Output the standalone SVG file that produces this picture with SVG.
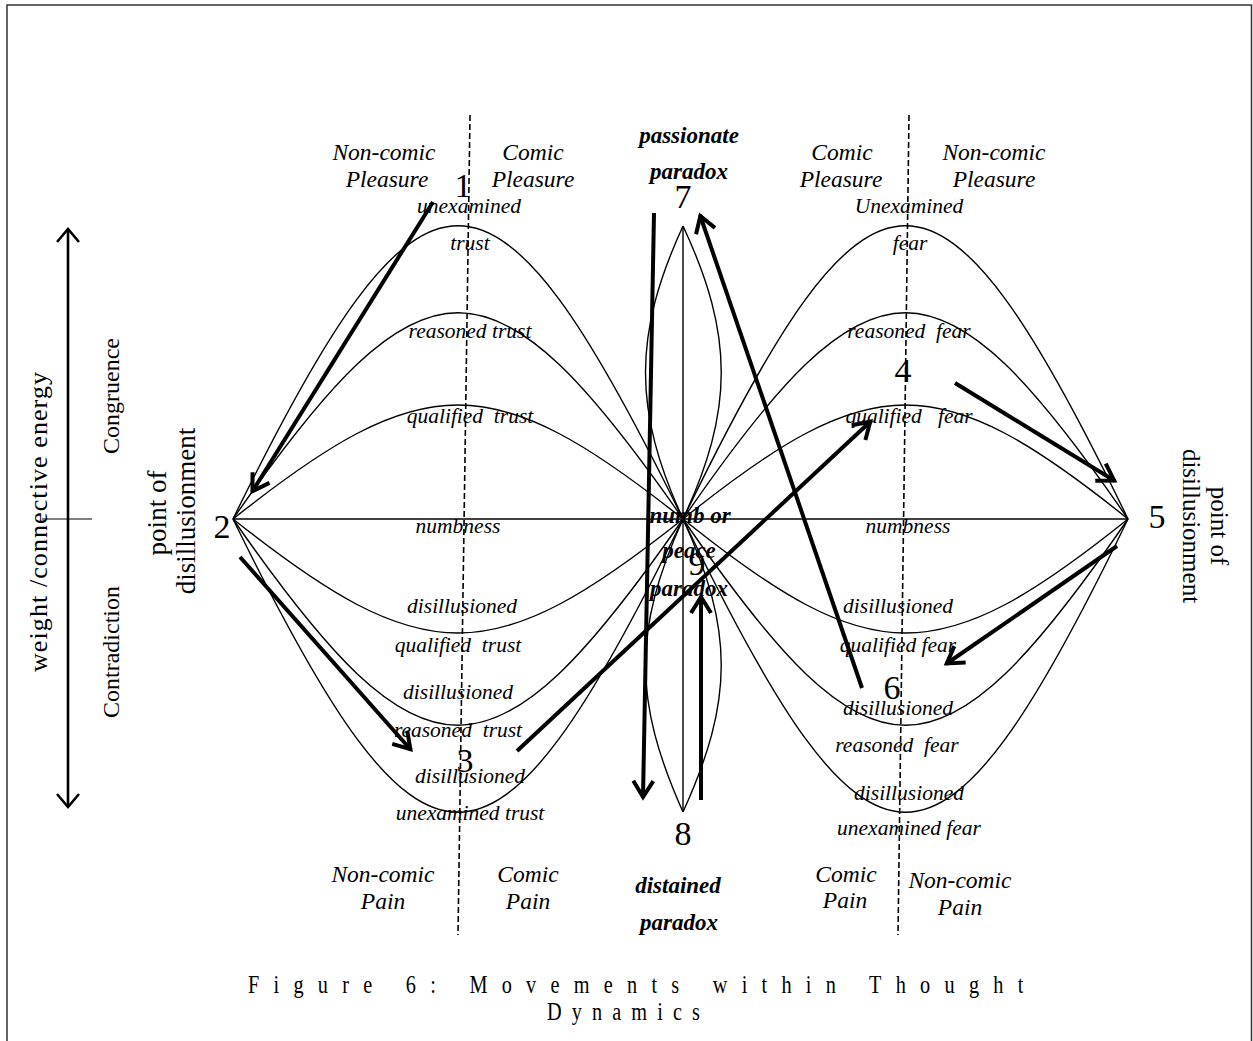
<svg xmlns="http://www.w3.org/2000/svg" width="1253" height="1041" viewBox="0 0 1253 1041">
<style>
.c{fill:none;stroke:#000;stroke-width:1.4}
.d{fill:none;stroke:#000;stroke-width:1.6;stroke-dasharray:6 3}
.a{fill:none;stroke:#000;stroke-width:4;marker-end:url(#ah)}
.t{font-family:"Liberation Serif",serif;fill:#000;text-anchor:middle;white-space:pre}
.i{font-style:italic;font-size:21.5px}
.h{font-style:italic;font-size:23.5px}
.b{font-style:italic;font-weight:bold;font-size:23px}
.n{font-size:34px}
.cap{font-family:"Liberation Serif",serif;fill:#000;font-size:26px}
</style>
<defs>
<marker id="ah" viewBox="0 0 26 24" refX="21" refY="12" markerWidth="26" markerHeight="24" markerUnits="userSpaceOnUse" orient="auto">
<path d="M4,2 L20,12 L4,22" fill="none" stroke="#000" stroke-width="4"/>
</marker>
</defs>
<rect x="7" y="5" width="1244.5" height="1045" fill="#fff" stroke="#333" stroke-width="1.5"/>

<g id="axis">
<path d="M68,230 L68,806" fill="none" stroke="#000" stroke-width="2.6"/>
<path d="M57,242 L68,229 L79,242" fill="none" stroke="#000" stroke-width="2.6"/>
<path d="M57,794 L68,807 L79,794" fill="none" stroke="#000" stroke-width="2.6"/>
<path d="M42,519 L92,519" fill="none" stroke="#000" stroke-width="1.2"/>
<text class="t" font-size="26" transform="translate(47,522) rotate(-90)" textLength="300" lengthAdjust="spacing">weight /connective energy</text>
<text class="t" font-size="24" transform="translate(119,396) rotate(-90)">Congruence</text>
<text class="t" font-size="24" transform="translate(119,652) rotate(-90)">Contradiction</text>
</g>

<g id="curves">
<path class="c" d="M233,519 C424,128 492,128 683,519"/>
<path class="c" d="M233,519 C424,244 492,244 683,519"/>
<path class="c" d="M233,519 C424,367 492,367 683,519"/>
<path class="c" d="M233,519 C424,671 492,671 683,519"/>
<path class="c" d="M233,519 C424,794 492,794 683,519"/>
<path class="c" d="M233,519 C424,910 492,910 683,519"/>
<path class="c" d="M683,519 C872,128 939,128 1128,519"/>
<path class="c" d="M683,519 C872,244 939,244 1128,519"/>
<path class="c" d="M683,519 C872,367 939,367 1128,519"/>
<path class="c" d="M683,519 C872,671 939,671 1128,519"/>
<path class="c" d="M683,519 C872,794 939,794 1128,519"/>
<path class="c" d="M683,519 C872,910 939,910 1128,519"/>
<path class="c" d="M233,519 L1128,519"/>
<path class="c" d="M683,226 C633,335 633,410 683,519"/>
<path class="c" d="M683,226 C734,335 734,410 683,519"/>
<path class="c" d="M683,226 L683,519"/>
<path class="c" d="M683,519 C633,630 633,700 683,812"/>
<path class="c" d="M683,519 C734,630 734,700 683,812"/>
<path class="c" d="M683,519 L683,812"/>
<path class="d" d="M470,115 L458,935"/>
<path class="d" d="M909,115 L898,935"/>
</g>

<g id="region-labels">
<text class="t h" x="384" y="160">Non-comic</text>
<text class="t h" x="387" y="187">Pleasure</text>
<text class="t h" x="533" y="160">Comic</text>
<text class="t h" x="533" y="187">Pleasure</text>
<text class="t h" x="842" y="160">Comic</text>
<text class="t h" x="841" y="187">Pleasure</text>
<text class="t h" x="994" y="160">Non-comic</text>
<text class="t h" x="994" y="187">Pleasure</text>
<text class="t h" x="383" y="882">Non-comic</text>
<text class="t h" x="383" y="909">Pain</text>
<text class="t h" x="528" y="882">Comic</text>
<text class="t h" x="528" y="909">Pain</text>
<text class="t h" x="846" y="882">Comic</text>
<text class="t h" x="845" y="908">Pain</text>
<text class="t h" x="960" y="888">Non-comic</text>
<text class="t h" x="960" y="915">Pain</text>
<text class="t b" x="689" y="143">passionate</text>
<text class="t b" x="689" y="179">paradox</text>
<text class="t b" x="678" y="893">distained</text>
<text class="t b" x="679" y="930">paradox</text>
<text class="t b" x="690" y="523">numb or</text>
<text class="t b" x="689" y="558">peace</text>
<text class="t b" x="689" y="596">paradox</text>
</g>

<g id="curve-labels">
<text class="t i" x="469" y="213">unexamined</text>
<text class="t i" x="470" y="250">trust</text>
<text class="t i" x="470" y="338">reasoned trust</text>
<text class="t i" x="470" y="423">qualified  trust</text>
<text class="t i" x="458" y="533">numbness</text>
<text class="t i" x="462" y="613">disillusioned</text>
<text class="t i" x="458" y="652">qualified  trust</text>
<text class="t i" x="458" y="699">disillusioned</text>
<text class="t i" x="458" y="737">reasoned  trust</text>
<text class="t i" x="470" y="783">disillusioned</text>
<text class="t i" x="470" y="820">unexamined trust</text>
<text class="t i" x="909" y="213">Unexamined</text>
<text class="t i" x="910" y="250">fear</text>
<text class="t i" x="909" y="338">reasoned  fear</text>
<text class="t i" x="909" y="423">qualified   fear</text>
<text class="t i" x="908" y="533">numbness</text>
<text class="t i" x="898" y="613">disillusioned</text>
<text class="t i" x="898" y="652">qualified fear</text>
<text class="t i" x="898" y="715">disillusioned</text>
<text class="t i" x="897" y="752">reasoned  fear</text>
<text class="t i" x="909" y="800">disillusioned</text>
<text class="t i" x="909" y="835">unexamined fear</text>
</g>

<g id="node-1"><text class="t n" x="463" y="197">1</text></g>
<g id="node-2">
<text class="t n" x="222" y="538">2</text>
<text class="t" font-size="27" transform="translate(166,513) rotate(-90)">point of</text>
<text class="t" font-size="27" transform="translate(195,511) rotate(-90)">disillusionment</text>
</g>
<g id="node-3"><text class="t n" x="465" y="772">3</text></g>
<g id="node-4"><text class="t n" x="903" y="382">4</text></g>
<g id="node-5">
<text class="t n" x="1157" y="528">5</text>
<text class="t" font-size="25" transform="translate(1211,526) rotate(90)">point of</text>
<text class="t" font-size="25" transform="translate(1183,526) rotate(90)">disillusionment</text>
</g>
<g id="node-6"><text class="t n" x="892" y="699">6</text></g>
<g id="node-7"><text class="t n" x="683" y="208">7</text></g>
<g id="node-8"><text class="t n" x="683" y="845">8</text></g>
<g id="node-9"><text class="t n" x="697" y="575">9</text></g>

<g id="connectors">
<path class="a" d="M433,202 L252,492"/>
<path class="a" d="M240,557 L411,750"/>
<path class="a" d="M517,751 L871,421"/>
<path class="a" d="M955,383 L1115,481"/>
<path class="a" d="M1117,546 L946,664"/>
<path class="a" d="M862,688 L700,215"/>
<path class="a" d="M654,213 L643,798"/>
<path class="a" d="M701,800 L701,596"/>
</g>

<g id="caption">
<text class="cap" transform="translate(248,993) scale(0.78,1)" x="0" y="0" textLength="994" lengthAdjust="spacing">Figure 6: Movements within Thought</text>
<text class="cap" transform="translate(547,1020) scale(0.78,1)" x="0" y="0" textLength="196" lengthAdjust="spacing">Dynamics</text>
</g>
</svg>
